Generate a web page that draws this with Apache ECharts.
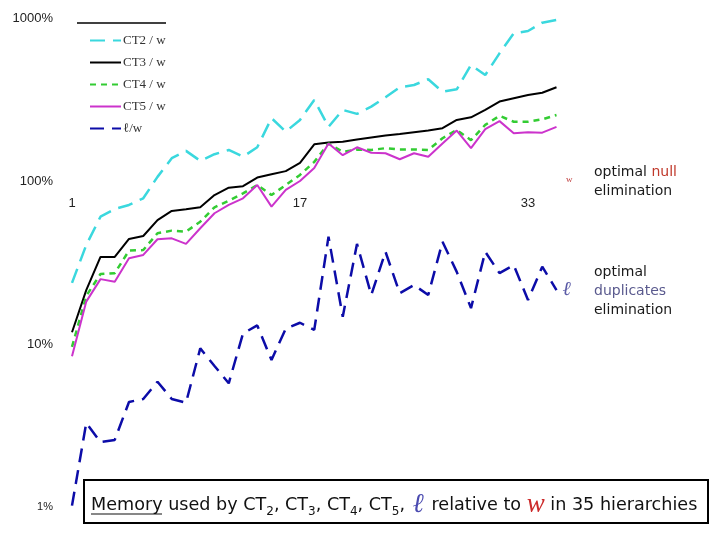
<!DOCTYPE html>
<html>
<head>
<meta charset="utf-8">
<script src="https://cdn.jsdelivr.net/npm/echarts@6/dist/echarts.min.js"></script>
<style>
  html, body { margin: 0; padding: 0; background: #ffffff; }
  #chart { width: 720px; height: 540px; }
</style>
</head>
<body>
<div id="chart"></div>
<script>
// Hierarchies 1..35
const categories = ['1','2','3','4','5','6','7','8','9','10','11','12','13','14','15','16','17','18','19','20','21','22','23','24','25','26','27','28','29','30','31','32','33','34','35'];

// Memory relative to w, in percent (log scale)
const ct2 = [23.7, 40.5, 60.4, 67.3, 71.3, 78.3, 106, 138, 153, 133, 146, 155, 141, 161, 243, 201, 237, 314, 215, 273, 258, 286, 326, 376, 388, 421, 353, 365, 515, 447, 607, 805, 832, 936, 972];
const ct3 = [11.8, 21.4, 34.2, 34.2, 44.1, 46.0, 57.6, 65.5, 67.0, 69.0, 82.0, 91.0, 93.0, 105, 110, 115, 129, 168, 172, 174, 180, 185, 190, 194, 199, 204, 211, 237, 246, 273, 307, 322, 337, 348, 376];
const ct4 = [9.6, 19.7, 26.9, 27.2, 37.4, 37.7, 47.8, 49.6, 48.9, 56.3, 69.0, 75.7, 84.0, 94.5, 82.0, 94.5, 109, 131, 170, 151, 156, 155, 159, 156, 156, 155, 183, 206, 178, 221, 251, 231, 231, 239, 254];
const ct5 = [8.4, 18.2, 25.0, 24.1, 33.6, 35.2, 43.9, 44.5, 41.1, 51.3, 63.4, 71.3, 78.3, 94.5, 69.6, 88.1, 100, 120, 170, 144, 161, 149, 148, 136, 148, 141, 170, 204, 159, 208, 233, 196, 199, 198, 215];
const ell = [1.02, 3.28, 2.50, 2.58, 4.41, 4.60, 5.87, 4.60, 4.36, 9.40, 7.33, 5.74, 11.6, 13.0, 7.98, 12.4, 13.5, 12.2, 45.5, 14.7, 41.1, 20.0, 36.8, 20.5, 23.0, 20.0, 42.4, 27.7, 16.6, 36.8, 27.2, 30.5, 18.6, 29.8, 21.4];

const seriesNames = ['CT2 / w', 'CT3 / w', 'CT4 / w', 'CT5 / w', 'ℓ/w'];
const yTickLabels = { 1: '1%', 10: '10%', 100: '100%', 1000: '1000%' };

const chart = echarts.init(document.getElementById('chart'), null, { renderer: 'canvas' });

function lineSeries(name, data, color, width, type, extra) {
  return Object.assign({
    name: name,
    type: 'line',
    data: data,
    symbol: 'none',
    smooth: false,
    lineStyle: { color: color, width: width, type: type },
    itemStyle: { color: color },
    z: 3
  }, extra || {});
}

const option = {
  backgroundColor: '#ffffff',
  animation: false,
  grid: { left: 72, right: 163.5, top: 18, bottom: 33, containLabel: false },
  legend: {
    orient: 'vertical',
    left: 84,
    top: 29,
    itemWidth: 31,
    itemHeight: 14,
    itemGap: 9,
    data: seriesNames,
    itemStyle: { opacity: 0 },
    textStyle: { fontFamily: 'Liberation Serif', fontSize: 13, color: '#333', padding: [0, 0, 0, -3] }
  },
  xAxis: {
    type: 'category',
    data: categories,
    boundaryGap: false,
    offset: -318,
    axisLine: { show: false },
    axisTick: { show: false },
    splitLine: { show: false },
    axisLabel: { interval: 15, margin: 8, fontFamily: 'Liberation Sans', fontSize: 13, color: '#222' }
  },
  yAxis: {
    type: 'log',
    logBase: 10,
    min: 1,
    max: 1000,
    axisLine: { show: false },
    axisTick: { show: false },
    splitLine: { show: false },
    axisLabel: {
      margin: 19,
      fontFamily: 'Liberation Sans',
      fontSize: 13,
      color: '#222',
      formatter: function (v) {
        const t = yTickLabels[Math.round(v)] || '';
        return Math.round(v) === 1 ? '{s|' + t + '}' : t;
      },
      rich: { s: { fontSize: 11, fontFamily: 'Liberation Sans', color: '#222' } }
    }
  },
  series: [
    lineSeries(seriesNames[0], ct2, '#3ad8de', 2.5, [15, 8]),
    lineSeries(seriesNames[1], ct3, '#000000', 2, 'solid'),
    lineSeries(seriesNames[2], ct4, '#33cc33', 2.5, [6, 5]),
    lineSeries(seriesNames[3], ct5, '#cc33cc', 2, 'solid'),
    lineSeries(seriesNames[4], ell, '#0c0ca8', 2.5, [14, 8], {
      endLabel: {
        show: true,
        formatter: 'ℓ',
        distance: 6,
        fontFamily: 'Liberation Serif',
        fontStyle: 'italic',
        fontSize: 20,
        color: '#5a5aa6'
      }
    })
  ],
  graphic: [
    { type: 'line', shape: { x1: 77, y1: 23, x2: 166, y2: 23 }, style: { stroke: '#000', lineWidth: 1.5 } },
    {
      type: 'text', x: 594, y: 163,
      style: {
        text: 'optimal {r|null}\nelimination',
        fontFamily: 'DejaVu Sans', fontSize: 14, lineHeight: 19, fill: '#1a1a1a',
        rich: { r: { fill: '#c0392b', fontFamily: 'DejaVu Sans', fontSize: 14, lineHeight: 19 } }
      }
    },
    {
      type: 'text', x: 594, y: 263,
      style: {
        text: 'optimal\n{b|duplicates}\nelimination',
        fontFamily: 'DejaVu Sans', fontSize: 14, lineHeight: 19, fill: '#1a1a1a',
        rich: { b: { fill: '#5a5a8e', fontFamily: 'DejaVu Sans', fontSize: 14, lineHeight: 19 } }
      }
    },
    {
      type: 'text', x: 566, y: 175,
      style: { text: 'w', fontFamily: 'Liberation Serif', fontSize: 9, fill: '#c04040' }
    },
    {
      type: 'rect', shape: { x: 84, y: 480, width: 624, height: 43 },
      style: { fill: 'none', stroke: '#000', lineWidth: 2 }
    },
    {
      type: 'text', x: 91, y: 492,
      style: {
        text: 'Memory used by CT{s|2}, CT{s|3}, CT{s|4}, CT{s|5}, {l|ℓ} relative to {w|w} in 35 hierarchies',
        fontFamily: 'DejaVu Sans', fontSize: 17.6, lineHeight: 26, fill: '#111',
        rich: {
          s: { fontFamily: 'DejaVu Sans', fontSize: 12, fill: '#111', verticalAlign: 'bottom', lineHeight: 26 },
          l: { fontFamily: 'Liberation Serif', fontStyle: 'italic', fontSize: 27, fill: '#4a4ab0', lineHeight: 26, padding: [0, 2, 0, 2] },
          w: { fontFamily: 'Liberation Serif', fontStyle: 'italic', fontSize: 27, fill: '#cc2a2a', lineHeight: 26 }
        }
      }
    },
    { type: 'line', shape: { x1: 91, y1: 514, x2: 162, y2: 514 }, style: { stroke: '#111', lineWidth: 1.2 } }
  ]
};

chart.setOption(option);
</script>
</body>
</html>
